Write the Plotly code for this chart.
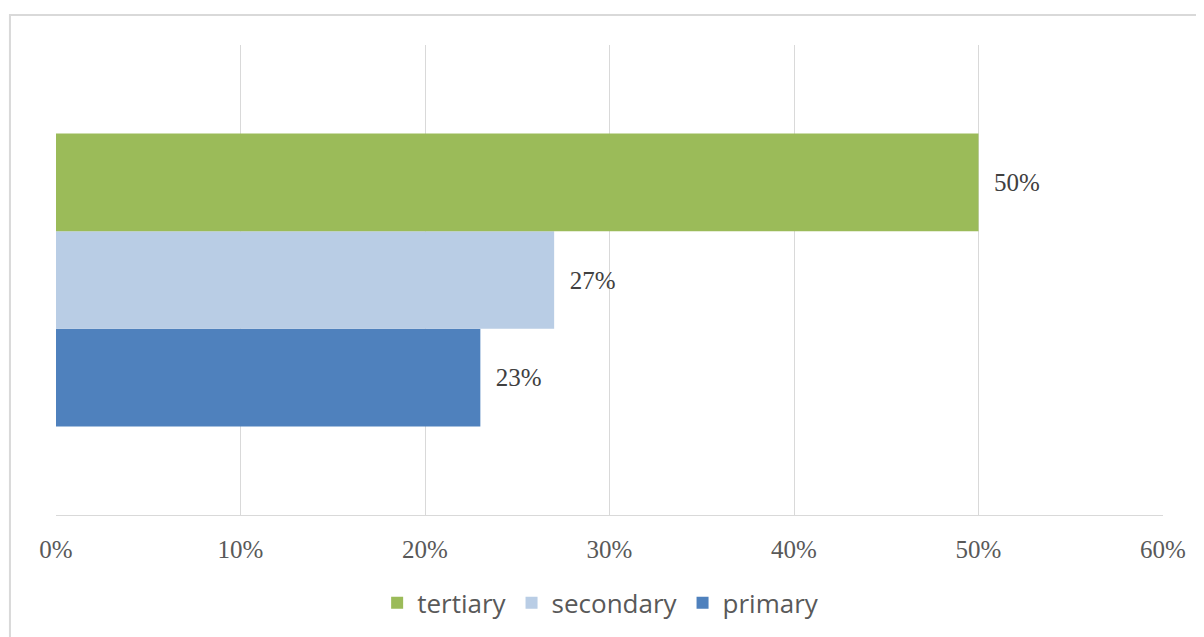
import plotly.graph_objects as go

category = [""]
series_names = ["primary", "secondary", "tertiary"]
series_values = [[0.23], [0.27], [0.50]]
series_colors = ["#4F81BD", "#B9CDE5", "#9BBB59"]
tick_vals = [0, 0.1, 0.2, 0.3, 0.4, 0.5, 0.6]

fig = go.Figure()
for name, vals, col in zip(series_names, series_values, series_colors):
    fig.add_trace(go.Bar(
        y=category, x=vals, name=name, orientation="h",
        marker=dict(color=col, line=dict(width=0)),
        text=["\u00a0\u00a0" + f"{v:.0%}" for v in vals],
        textposition="outside", cliponaxis=False,
        textfont=dict(family="Liberation Serif", size=25, color="#404040"),
    ))

# chart frame
fig.add_shape(type="rect", xref="paper", yref="paper",
              x0=-0.0416, x1=1.06, y0=-0.32, y1=1.0638,
              line=dict(color="#D9D9D9", width=2), layer="below")

fig.update_layout(
    width=1204, height=637,
    margin=dict(l=48, r=49, t=37, b=130),
    paper_bgcolor="white", plot_bgcolor="white",
    barmode="group", bargap=0.377, bargroupgap=0,
    showlegend=True,
    legend=dict(orientation="h", x=0.492, xanchor="center", y=-0.187, yanchor="middle",
                traceorder="reversed",
                font=dict(family="Open Sans", size=26, color="#595959")),
    xaxis=dict(range=[0, 0.6], tickvals=tick_vals, tickformat=".0%",
               showgrid=True, gridcolor="#D9D9D9", gridwidth=1,
               showline=True, linecolor="#D9D9D9", linewidth=1,
               zeroline=False, ticks="", ticklabelstandoff=12,
               tickfont=dict(family="Liberation Serif", size=25, color="#595959")),
    yaxis=dict(showticklabels=False, showgrid=False, zeroline=False, showline=False),
)

fig.write_html("out.html")
